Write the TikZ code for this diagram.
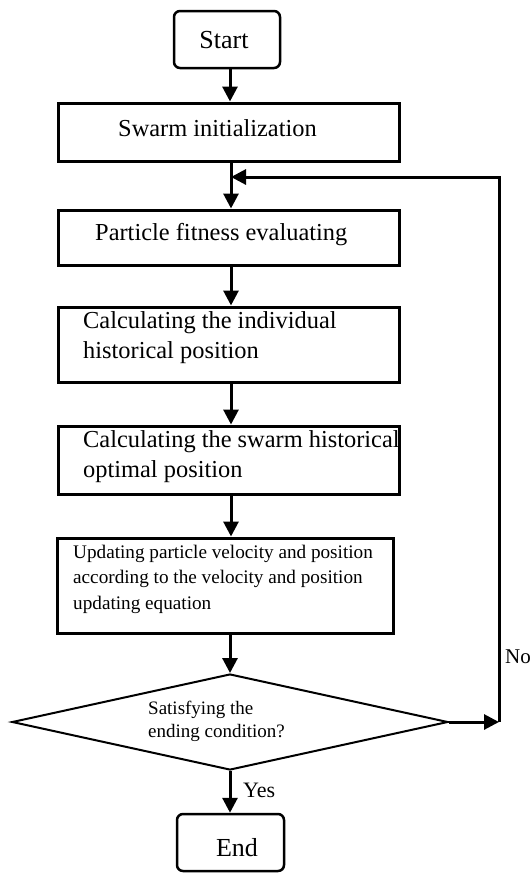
\documentclass[tikz,border=0pt]{standalone}
\usepackage{fontspec}
\setmainfont{Liberation Serif}
\usetikzlibrary{arrows.meta,shapes.geometric,calc}
\begin{document}
\begin{tikzpicture}[x=1pt,y=-1pt,
  box/.style={draw,line width=3pt,rectangle,inner sep=0pt},
  term/.style={draw,line width=2.5pt,rectangle,rounded corners=6pt,inner sep=0pt},
  dia/.style={draw,line width=2pt,diamond,inner sep=0pt},
  big/.style={inner sep=0pt,font=\fontsize{24.4}{30}\selectfont,align=left},
  small/.style={inner sep=0pt,font=\fontsize{19.2}{25.5}\selectfont,align=left},
  flow/.style={line width=3pt,-{Triangle[length=15pt,width=15pt]}},
  plain/.style={line width=3pt}]
\useasboundingbox (0,0) rectangle (531,873);
% boxes
\node[term,minimum width=106pt,minimum height=57pt] (start) at (227,39.5) {};
\node[box,minimum width=341pt,minimum height=58pt] (init) at (228.5,132) {};
\node[box,minimum width=341pt,minimum height=55pt] (fit) at (228.5,237.5) {};
\node[box,minimum width=341pt,minimum height=75pt] (ind) at (228.5,344.5) {};
\node[box,minimum width=341pt,minimum height=68pt] (swm) at (228.5,460) {};
\node[box,minimum width=336pt,minimum height=95pt] (upd) at (225,585.5) {};
\node[dia,minimum width=436pt,minimum height=96pt] (cond) at (230,722) {};
\node[term,minimum width=107pt,minimum height=57pt] (end) at (230.5,842.5) {};
% texts
\node[inner sep=0pt,font=\fontsize{26}{30}\selectfont] (tstart) at (224,40) {Start};
\node[big,anchor=west] (tinit) at (118,128) {Swarm initialization};
\node[big,anchor=west] (tfit) at (95,235) {Particle fitness evaluating};
\node[big,anchor=west] (tind) at (83,338) {Calculating the individual\\historical position};
\node[big,anchor=west] (tswm) at (83,457) {Calculating the swarm historical\\optimal position};
\node[small,anchor=west] (tupd) at (73,579) {Updating particle velocity and position\\according to the velocity and position\\updating equation};
\node[inner sep=0pt,font=\fontsize{19}{23}\selectfont,align=left,anchor=west] (tcond) at (148,721.5) {Satisfying the\\ending condition?};
\node[inner sep=0pt,font=\fontsize{26}{30}\selectfont] (tend) at (237,848) {End};
\node[inner sep=0pt,font=\fontsize{22}{26}\selectfont,anchor=west] (yes) at (243,790) {Yes};
\node[inner sep=0pt,font=\fontsize{21}{26}\selectfont,anchor=west] (no) at (505,657) {No};
% connectors
\coordinate (fb) at (231,177);
\coordinate (rc) at (499,722);
\coordinate (tr) at (499,177);
\draw[flow] (start.south -| 230,0) -- (init.north -| 230,0);
\draw[plain] (init.south -| 231,0) -- (fb);
\draw[flow] (fb) -- (fit.north -| 231,0);
\draw[flow] (fit.south -| 231,0) -- (ind.north -| 231,0);
\draw[flow] (ind.south -| 231,0) -- (swm.north -| 231,0);
\draw[flow] (swm.south -| 231,0) -- (upd.north -| 231,0);
\draw[flow] (upd.south -| cond.north) -- (cond.north);
\draw[flow] (cond.south) -- (end.north -| cond.south);
\draw[flow] (cond.east) -- (rc);
\draw[flow] (rc) -- (tr) -- (fb);
\end{tikzpicture}
\end{document}
